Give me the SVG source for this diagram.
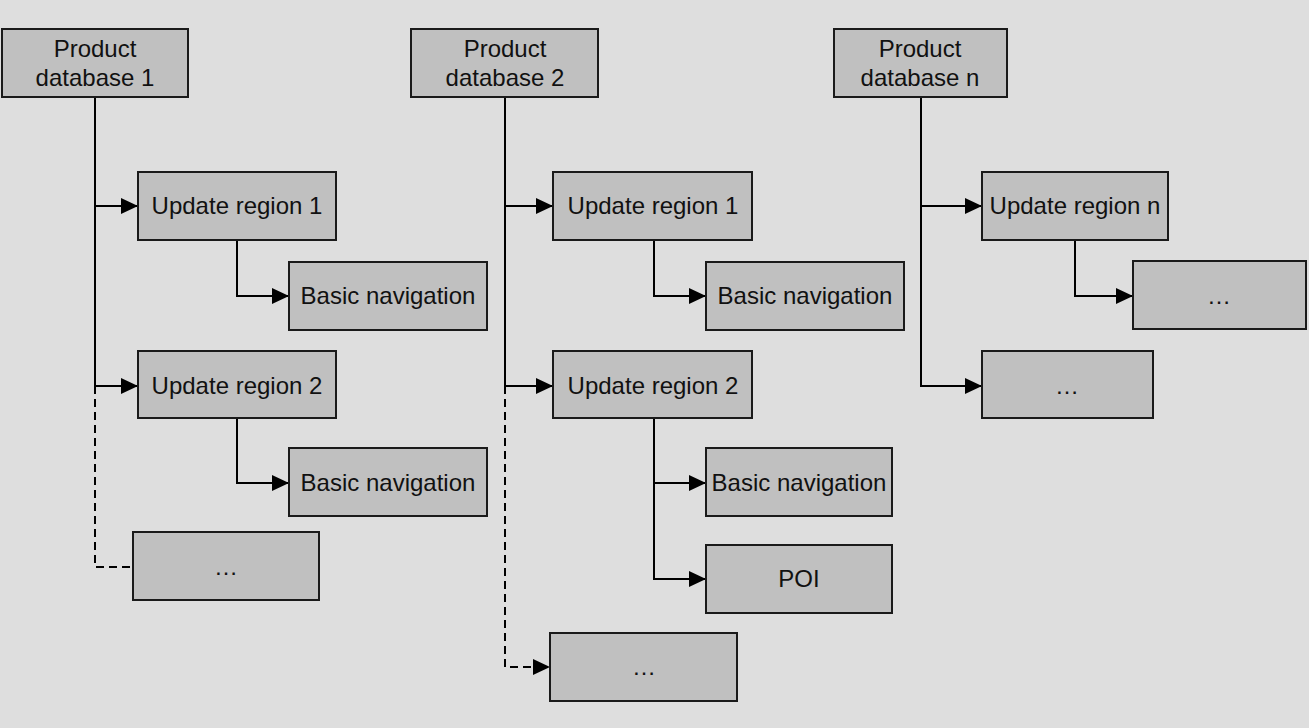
<svg xmlns="http://www.w3.org/2000/svg" width="1309" height="728" viewBox="0 0 1309 728">
<style>
.box{fill:#c0c0c0;stroke:#1a1a1a;stroke-width:2}
.t{font-family:"Liberation Sans",Arial,sans-serif;font-size:24px;fill:#111;text-anchor:middle}
.ln{fill:none;stroke:#000;stroke-width:2}
.dash{stroke-dasharray:8 5}
</style>
<defs>
<marker id="arr" markerUnits="userSpaceOnUse" markerWidth="17" markerHeight="16" refX="17" refY="8" orient="auto">
<path d="M0,0 L17,8 L0,16 z" fill="#000"/>
</marker>
</defs>
<rect width="1309" height="728" fill="#dedede"/>
<g id="connectors">
<path class="ln" d="M95,97 V386"/>
<path class="ln" d="M95,206 H138" marker-end="url(#arr)"/>
<path class="ln" d="M95,386 H138" marker-end="url(#arr)"/>
<path class="ln dash" d="M95,386 V567 H133"/>
<path class="ln" d="M237,240 V296 H289" marker-end="url(#arr)"/>
<path class="ln" d="M237,418 V483 H289" marker-end="url(#arr)"/>
<path class="ln" d="M505,97 V386"/>
<path class="ln" d="M505,206 H553" marker-end="url(#arr)"/>
<path class="ln" d="M505,386 H553" marker-end="url(#arr)"/>
<path class="ln dash" d="M505,386 V667 H550" marker-end="url(#arr)"/>
<path class="ln" d="M654,240 V296 H706" marker-end="url(#arr)"/>
<path class="ln" d="M654,418 V579 H706" marker-end="url(#arr)"/>
<path class="ln" d="M654,483 H706" marker-end="url(#arr)"/>
<path class="ln" d="M921,97 V386 H982" marker-end="url(#arr)"/>
<path class="ln" d="M921,206 H982" marker-end="url(#arr)"/>
<path class="ln" d="M1075,240 V296 H1133" marker-end="url(#arr)"/>
</g>
<g id="pd1"><rect class="box" x="2" y="29" width="186" height="68"/><text class="t" x="95" y="57">Product</text><text class="t" x="95" y="86">database 1</text></g>
<g id="pd2"><rect class="box" x="411" y="29" width="187" height="68"/><text class="t" x="505" y="57">Product</text><text class="t" x="505" y="86">database 2</text></g>
<g id="pdn"><rect class="box" x="834" y="29" width="173" height="68"/><text class="t" x="920" y="57">Product</text><text class="t" x="920" y="86">database n</text></g>
<g id="c1ur1"><rect class="box" x="138" y="172" width="198" height="68"/><text class="t" x="237" y="214">Update region 1</text></g>
<g id="c1bn1"><rect class="box" x="289" y="262" width="198" height="68"/><text class="t" x="388" y="304">Basic navigation</text></g>
<g id="c1ur2"><rect class="box" x="138" y="351" width="198" height="67"/><text class="t" x="237" y="394">Update region 2</text></g>
<g id="c1bn2"><rect class="box" x="289" y="448" width="198" height="68"/><text class="t" x="388" y="491">Basic navigation</text></g>
<g id="c1more"><rect class="box" x="133" y="532" width="186" height="68"/><text class="t" x="226" y="575">…</text></g>
<g id="c2ur1"><rect class="box" x="553" y="172" width="199" height="68"/><text class="t" x="653" y="214">Update region 1</text></g>
<g id="c2bn1"><rect class="box" x="706" y="262" width="198" height="68"/><text class="t" x="805" y="304">Basic navigation</text></g>
<g id="c2ur2"><rect class="box" x="553" y="351" width="199" height="67"/><text class="t" x="653" y="394">Update region 2</text></g>
<g id="c2bn2"><rect class="box" x="706" y="448" width="186" height="68"/><text class="t" x="799" y="491">Basic navigation</text></g>
<g id="c2poi"><rect class="box" x="706" y="545" width="186" height="68"/><text class="t" x="799" y="587">POI</text></g>
<g id="c2more"><rect class="box" x="550" y="633" width="187" height="68"/><text class="t" x="644" y="675">…</text></g>
<g id="c3urn"><rect class="box" x="982" y="172" width="186" height="68"/><text class="t" x="1075" y="214">Update region n</text></g>
<g id="c3more1"><rect class="box" x="1133" y="261" width="173" height="68"/><text class="t" x="1219" y="304">…</text></g>
<g id="c3more2"><rect class="box" x="982" y="351" width="171" height="67"/><text class="t" x="1067" y="394">…</text></g>
</svg>
